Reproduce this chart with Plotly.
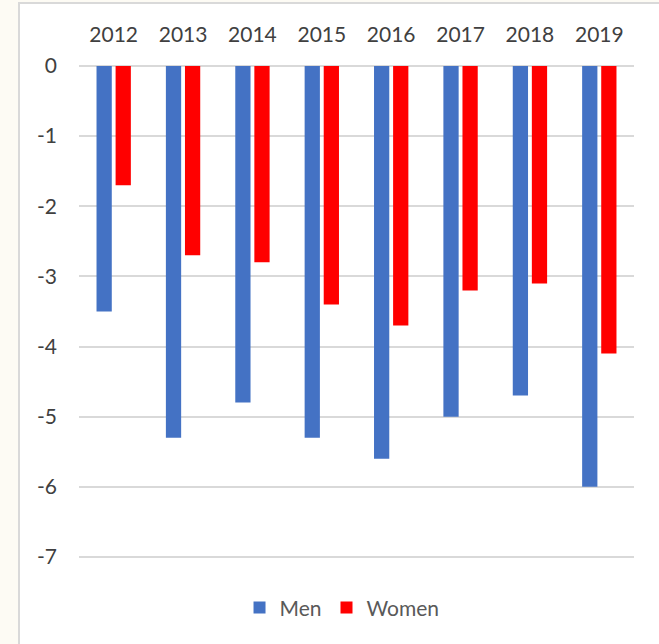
import plotly.graph_objects as go

# Yearly change values by gender
years = ["2012", "2013", "2014", "2015", "2016", "2017", "2018", "2019"]
men = [-3.5, -5.3, -4.8, -5.3, -5.6, -5.0, -4.7, -6.0]
women = [-1.7, -2.7, -2.8, -3.4, -3.7, -3.2, -3.1, -4.1]
y_ticks = [0, -1, -2, -3, -4, -5, -6, -7]

W, H = 659, 644
ML, MR, MT, MB = 79, 25, 66, 85
PW = W - ML - MR
PH = H - MT - MB

FONT = "Lato, 'Open Sans', sans-serif"
GRID = "#D9D9D9"

fig = go.Figure()
fig.add_trace(go.Bar(x=years, y=men, name="Men", marker=dict(color="#4472C4", line=dict(width=0))))
fig.add_trace(go.Bar(x=years, y=women, name="Women", marker=dict(color="#FF0000", line=dict(width=0))))


def px_x(p):
    return (p - ML) / PW


def px_y(p):
    return (H - MB - p) / PH


# White chart panel with a light border on a cream page
fig.add_shape(
    type="rect", xref="paper", yref="paper",
    x0=px_x(19), x1=px_x(W + 10), y0=px_y(H + 10), y1=px_y(3),
    fillcolor="white", line=dict(color=GRID, width=2), layer="below",
)

fig.update_layout(
    width=W, height=H,
    margin=dict(l=ML, r=MR, t=MT, b=MB, pad=0),
    paper_bgcolor="#FDFBF4",
    plot_bgcolor="rgba(0,0,0,0)",
    barmode="group",
    bargap=0.45,
    bargroupgap=0.2,
    font=dict(family=FONT, color="#404040", size=21),
    showlegend=True,
    legend=dict(
        orientation="h", xref="container", yref="container",
        x=0.519, xanchor="center", y=0.056, yanchor="middle",
        bgcolor="rgba(0,0,0,0)",
        font=dict(size=21, color="#595959"),
        itemwidth=30, tracegroupgap=0,
    ),
    xaxis=dict(
        side="top", showgrid=False, showline=False, ticks="",
        tickfont=dict(size=21, color="#404040"),
        ticklabelstandoff=19,
    ),
    yaxis=dict(
        range=[-7.03, 0], tickvals=y_ticks, ticktext=[str(v) for v in y_ticks],
        showgrid=True, gridcolor=GRID, gridwidth=2,
        zeroline=True, zerolinecolor=GRID, zerolinewidth=2,
        showline=False, ticks="",
        tickfont=dict(size=21, color="#404040"),
        ticklabelstandoff=21,
    ),
)

fig.write_html("out.html")
